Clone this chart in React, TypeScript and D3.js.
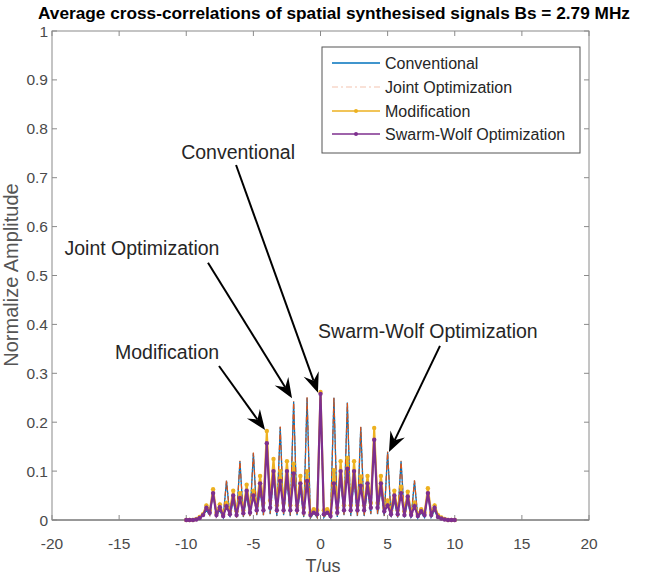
import React from "react";
import * as d3 from "d3";

// Sample times (µs), one row per microsecond
const times = [
  -10, -9.75, -9.5, -9.25, -9, -8.75, -8.5, -8.25, -8, -7.75, -7.5, -7.25,
  -7, -6.75, -6.5, -6.25, -6, -5.75, -5.5, -5.25, -5, -4.75, -4.5, -4.25,
  -4, -3.75, -3.5, -3.25, -3, -2.75, -2.5, -2.25, -2, -1.75, -1.5, -1.25,
  -1, -0.75, -0.5, -0.25, 0, 0.25, 0.5, 0.75, 1, 1.25, 1.5, 1.75,
  2, 2.25, 2.5, 2.75, 3, 3.25, 3.5, 3.75, 4, 4.25, 4.5, 4.75,
  5, 5.25, 5.5, 5.75, 6, 6.25, 6.5, 6.75, 7, 7.25, 7.5, 7.75,
  8, 8.25, 8.5, 8.75, 9, 9.25, 9.5, 9.75, 10,
];

const conventional = [
  0, 0, 0, 0.001,
  0.005, 0.008, 0.02, 0.01,
  0.055, 0.008, 0.02, 0.005,
  0.08, 0.006, 0.04, 0.005,
  0.12, 0.006, 0.05, 0.008,
  0.137, 0.01, 0.06, 0.01,
  0.172, 0.012, 0.09, 0.008,
  0.19, 0.01, 0.085, 0.008,
  0.242, 0.01, 0.065, 0.006,
  0.25, 0.004, 0.015, 0.005,
  0.26, 0.005, 0.015, 0.004,
  0.25, 0.006, 0.085, 0.01,
  0.24, 0.008, 0.085, 0.008,
  0.19, 0.008, 0.065, 0.012,
  0.175, 0.012, 0.065, 0.008,
  0.139, 0.006, 0.04, 0.005,
  0.12, 0.005, 0.04, 0.004,
  0.08, 0.004, 0.015, 0.005,
  0.055, 0.006, 0.02, 0.004,
  0.004, 0.001, 0, 0,
  0,
];

const jointOptimization = [
  0, 0, 0, 0.001,
  0.005, 0.009, 0.022, 0.01,
  0.056, 0.008, 0.022, 0.006,
  0.081, 0.007, 0.042, 0.005,
  0.121, 0.007, 0.052, 0.008,
  0.138, 0.011, 0.062, 0.01,
  0.173, 0.013, 0.092, 0.009,
  0.191, 0.011, 0.087, 0.009,
  0.243, 0.011, 0.067, 0.007,
  0.251, 0.005, 0.016, 0.005,
  0.261, 0.005, 0.016, 0.005,
  0.251, 0.007, 0.087, 0.011,
  0.241, 0.009, 0.087, 0.009,
  0.191, 0.009, 0.067, 0.013,
  0.176, 0.013, 0.067, 0.009,
  0.14, 0.007, 0.042, 0.006,
  0.121, 0.006, 0.042, 0.005,
  0.081, 0.005, 0.016, 0.006,
  0.056, 0.007, 0.021, 0.004,
  0.004, 0.001, 0, 0,
  0,
];

const modification = [
  0, 0, 0, 0.002,
  0.006, 0.012, 0.03, 0.02,
  0.063, 0.015, 0.032, 0.012,
  0.035, 0.02, 0.06, 0.018,
  0.055, 0.02, 0.072, 0.025,
  0.06, 0.03, 0.09, 0.035,
  0.182, 0.04, 0.125, 0.03,
  0.1, 0.035, 0.12, 0.03,
  0.115, 0.03, 0.09, 0.025,
  0.1, 0.015, 0.022, 0.02,
  0.262, 0.02, 0.022, 0.015,
  0.102, 0.025, 0.12, 0.03,
  0.127, 0.03, 0.12, 0.03,
  0.089, 0.03, 0.09, 0.035,
  0.188, 0.035, 0.09, 0.025,
  0.04, 0.02, 0.06, 0.02,
  0.068, 0.018, 0.058, 0.015,
  0.035, 0.012, 0.022, 0.015,
  0.065, 0.015, 0.03, 0.01,
  0.005, 0.002, 0, 0,
  0,
];

const swarmWolf = [
  0, 0, 0, 0.001,
  0.004, 0.01, 0.025, 0.015,
  0.055, 0.01, 0.026, 0.008,
  0.028, 0.012, 0.05, 0.01,
  0.045, 0.014, 0.06, 0.015,
  0.05, 0.02, 0.075, 0.02,
  0.157, 0.025, 0.1, 0.02,
  0.08, 0.02, 0.1, 0.02,
  0.095, 0.02, 0.075, 0.015,
  0.08, 0.01, 0.015, 0.012,
  0.258, 0.012, 0.015, 0.008,
  0.075, 0.015, 0.1, 0.02,
  0.105, 0.02, 0.1, 0.02,
  0.07, 0.02, 0.075, 0.025,
  0.164, 0.025, 0.075, 0.018,
  0.03, 0.012, 0.05, 0.012,
  0.055, 0.01, 0.048, 0.01,
  0.028, 0.008, 0.018, 0.01,
  0.055, 0.01, 0.025, 0.006,
  0.003, 0.001, 0, 0,
  0,
];

const xTicks = [-20, -15, -10, -5, 0, 5, 10, 15, 20];
const yTicks = [0, 0.1, 0.2, 0.3, 0.4, 0.5, 0.6, 0.7, 0.8, 0.9, 1];
const seriesNames = ["Conventional", "Joint Optimization", "Modification", "Swarm-Wolf Optimization"];

// annotation labels and arrows in data coordinates
const annotationLabels = ["Conventional", "Joint Optimization", "Modification", "Swarm-Wolf Optimization"];
const labelX = [-6.14, -13.3, -11.43, 8.0];
const labelY = [0.753, 0.556, 0.344, 0.386];
const arrowFromX = [-6.29, -8.38, -7.56, 8.9];
const arrowFromY = [0.726, 0.526, 0.315, 0.356];
const arrowToX = [-0.19, -2.12, -4.13, 5.1];
const arrowToY = [0.26, 0.249, 0.184, 0.139];

const W = 645;
const H = 578;
const M = { left: 52, right: 589, top: 31, bottom: 520 };
const COLORS = ["#0072BD", "#D95319", "#EDB120", "#7E2F8E"];
const FONT = "'Liberation Sans', Arial, sans-serif";

function Arrow({ x1, y1, x2, y2 }: { x1: number; y1: number; x2: number; y2: number }) {
  const ang = Math.atan2(y2 - y1, x2 - x1);
  const L = 20, hw = 8, notch = 13;
  const ux = Math.cos(ang), uy = Math.sin(ang);
  const px = -uy, py = ux;
  const bx = x2 - ux * L, by = y2 - uy * L;
  const nx = x2 - ux * notch, ny = y2 - uy * notch;
  const pts = [
    [x2, y2],
    [bx + px * hw, by + py * hw],
    [nx, ny],
    [bx - px * hw, by - py * hw],
  ];
  return (
    <g>
      <line x1={x1} y1={y1} x2={nx} y2={ny} stroke="#000" strokeWidth={2} />
      <polygon points={pts.map((p) => p.join(",")).join(" ")} fill="#000" />
    </g>
  );
}

export default function App() {
  const x = d3.scaleLinear().domain([-20, 20]).range([M.left, M.right]);
  const y = d3.scaleLinear().domain([0, 1]).range([M.bottom, M.top]);
  const lineGen = d3
    .line<number>()
    .x((_, i) => x(times[i]))
    .y((d) => y(d));

  const legendX = 322, legendY = 47, legendW = 258, legendH = 106;
  const rowY = [63, 87, 111, 134];

  return (
    <svg
      width={W}
      height={H}
      style={{ position: "absolute", left: 0, top: 0, background: "#fff" }}
      fontFamily={FONT}
    >
      <rect x={0} y={0} width={W} height={H} fill="#fff" />
      {/* title */}
      <text
        x={38}
        y={19}
        fontSize={16.5}
        fontWeight="bold"
        fill="#000"
        textLength={592}
        lengthAdjust="spacingAndGlyphs"
      >
        Average cross-correlations of spatial synthesised signals Bs = 2.79 MHz
      </text>

      {/* frame */}
      <rect
        x={M.left}
        y={M.top}
        width={M.right - M.left}
        height={M.bottom - M.top}
        fill="#fff"
        stroke="#8a8a8a"
        strokeWidth={1}
      />
      {/* ticks */}
      {xTicks.map((t) => (
        <g key={"xt" + t}>
          <line x1={x(t)} x2={x(t)} y1={M.bottom} y2={M.bottom - 5} stroke="#8a8a8a" />
          <line x1={x(t)} x2={x(t)} y1={M.top} y2={M.top + 5} stroke="#8a8a8a" />
          <text x={x(t)} y={549} fontSize={15.5} fill="#4a4a4a" textAnchor="middle">
            {t}
          </text>
        </g>
      ))}
      {yTicks.map((t) => (
        <g key={"yt" + t}>
          <line x1={M.left} x2={M.left + 5} y1={y(t)} y2={y(t)} stroke="#8a8a8a" />
          <line x1={M.right} x2={M.right - 5} y1={y(t)} y2={y(t)} stroke="#8a8a8a" />
          <text x={M.left - 4} y={y(t) + 5.5} fontSize={15.5} fill="#4a4a4a" textAnchor="end">
            {t}
          </text>
        </g>
      ))}
      <line x1={M.left} x2={M.right} y1={M.bottom} y2={M.bottom} stroke="#8a8a8a" strokeWidth={1.5} />

      {/* axis labels */}
      <text x={323} y={572} fontSize={18} fill="#4a4a4a" textAnchor="middle">
        T/us
      </text>
      <text
        transform={`translate(18,${275}) rotate(-90)`}
        fontSize={20}
        fill="#555"
        textAnchor="middle"
      >
        Normalize Amplitude
      </text>

      {/* series */}
      <path d={lineGen(conventional) as string} fill="none" stroke={COLORS[0]} strokeWidth={1.3} />
      <path
        d={lineGen(jointOptimization) as string}
        fill="none"
        stroke={COLORS[1]}
        strokeWidth={1.2}
        strokeDasharray="5,2,1.5,2"
      />
      <path d={lineGen(modification) as string} fill="none" stroke={COLORS[2]} strokeWidth={2} />
      {modification.map((v, i) => (
        <circle key={"m" + i} cx={x(times[i])} cy={y(v)} r={2.2} fill={COLORS[2]} />
      ))}
      <path d={lineGen(swarmWolf) as string} fill="none" stroke={COLORS[3]} strokeWidth={2.2} />
      {swarmWolf.map((v, i) => (
        <circle key={"s" + i} cx={x(times[i])} cy={y(v)} r={2.2} fill={COLORS[3]} />
      ))}

      {/* legend */}
      <rect x={legendX} y={legendY} width={legendW} height={legendH} fill="#fff" stroke="#555" strokeWidth={1} />
      {seriesNames.map((name, i) => (
        <g key={"lg" + i}>
          <line
            x1={332}
            x2={380}
            y1={rowY[i]}
            y2={rowY[i]}
            stroke={COLORS[i]}
            strokeWidth={i === 1 ? 1 : 1.5}
            strokeOpacity={i === 1 ? 0.35 : 1}
            strokeDasharray={i === 1 ? "6,3,2,3" : undefined}
          />
          {i >= 2 && <circle cx={356} cy={rowY[i]} r={2} fill={COLORS[i]} />}
          <text x={385} y={rowY[i] + 5.5} fontSize={16} fill="#262626">
            {name}
          </text>
        </g>
      ))}

      {/* annotations */}
      {annotationLabels.map((lbl, i) => (
        <g key={"an" + i}>
          <text
            x={x(labelX[i])}
            y={y(labelY[i]) + 7}
            fontSize={19.5}
            fill="#262626"
            textAnchor="middle"
          >
            {lbl}
          </text>
          <Arrow x1={x(arrowFromX[i])} y1={y(arrowFromY[i])} x2={x(arrowToX[i])} y2={y(arrowToY[i])} />
        </g>
      ))}
    </svg>
  );
}
